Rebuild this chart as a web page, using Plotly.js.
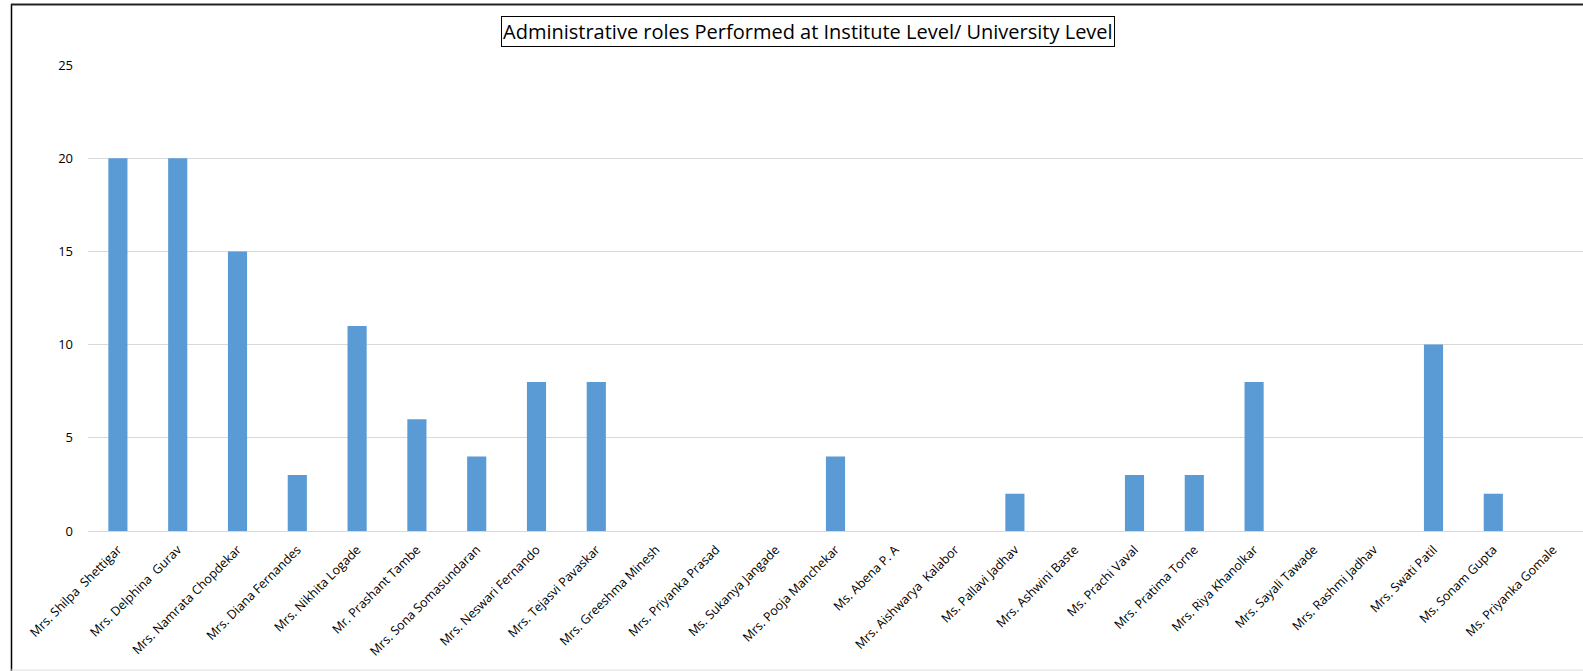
<!DOCTYPE html>
<html>
<head>
<meta charset="utf-8">
<script src="https://cdn.plot.ly/plotly-3.0.1.min.js"></script>
<style>
html,body{margin:0;padding:0;background:#fff;}
#chart{width:1583px;height:671px;}
</style>
</head>
<body>
<div id="chart"></div>
<script>
var names = [
  "Mrs. Shilpa  Shettigar",
  "Mrs. Delphina  Gurav",
  "Mrs. Namrata Chopdekar",
  "Mrs. Diana Fernandes",
  "Mrs. Nikhita Logade",
  "Mr. Prashant Tambe",
  "Mrs. Sona Somasundaran",
  "Mrs. Neswari Fernando",
  "Mrs. Tejasvi Pavaskar",
  "Mrs. Greeshma Minesh",
  "Mrs. Priyanka Prasad",
  "Ms. Sukanya Jangade",
  "Mrs. Pooja Manchekar",
  "Ms. Abena P. A",
  "Mrs. Aishwarya  Kalabor",
  "Ms. Pallavi Jadhav",
  "Mrs. Ashwini Baste",
  "Ms. Prachi Vaval",
  "Mrs. Pratima Torne",
  "Mrs. Riya Khanolkar",
  "Mrs. Sayali Tawade",
  "Mrs. Rashmi Jadhav",
  "Mrs. Swati Patil",
  "Ms. Sonam Gupta",
  "Ms. Priyanka Gomale"
];
var roles = [20, 20, 15, 3, 11, 6, 4, 8, 8, 0, 0, 0, 4, 0, 0, 2, 0, 3, 3, 8, 0, 0, 10, 2, 0];
var yTicks = [0, 5, 10, 15, 20, 25];
var chartTitle = "Administrative roles Performed at Institute Level/ University Level";

var W = 1583, H = 671;
var L = 88, R = 0, T = 65, B = 140;
var plotW = W - L - R, plotH = H - T - B;
function px2x(px){ return (px - L) / plotW; }
function py2y(py){ return (H - B - py) / plotH; }

var FONT = "Open Sans, Liberation Sans, sans-serif";

var trace = {
  type: "bar",
  x: names,
  y: roles,
  marker: {color: "#5B9BD5"},
  hoverinfo: "x+y"
};

var layout = {
  width: W, height: H,
  margin: {l: L, r: R, t: T, b: B, pad: 0},
  paper_bgcolor: "#ffffff",
  plot_bgcolor: "#ffffff",
  showlegend: false,
  bargap: 0.68,
  font: {family: FONT, size: 12, color: "#000000"},
  xaxis: {
    type: "category",
    tickangle: -45,
    tickfont: {family: FONT, size: 12.5, color: "#000000"},
    showgrid: false,
    showline: false,
    zeroline: false,
    ticks: "",
    ticklabelstandoff: 8,
    automargin: false
  },
  yaxis: {
    range: [0, 25],
    tickvals: yTicks,
    ticktext: yTicks.map(String),
    tickfont: {family: FONT, size: 13, color: "#000000"},
    showgrid: true,
    gridcolor: "#d9d9d9",
    gridwidth: 1,
    zeroline: true,
    zerolinecolor: "#d9d9d9",
    zerolinewidth: 1,
    showline: false,
    ticks: "",
    ticklabelstandoff: 14,
    automargin: false
  },
  annotations: [{
    text: chartTitle,
    xref: "paper", yref: "paper",
    x: px2x(808), y: py2y(31),
    xanchor: "center", yanchor: "middle",
    showarrow: false,
    font: {family: FONT, size: 20, color: "#000000"},
    bordercolor: "#000000",
    borderwidth: 1,
    borderpad: 1,
    bgcolor: "#ffffff"
  }],
  shapes: [
    {type: "line", xref: "paper", yref: "paper",
     x0: px2x(11.5), x1: px2x(11.5), y0: py2y(4), y1: py2y(671),
     line: {color: "#000000", width: 1.5}},
    {type: "line", xref: "paper", yref: "paper",
     x0: px2x(11), x1: px2x(1583), y0: py2y(4.5), y1: py2y(4.5),
     line: {color: "#222222", width: 2}},
    {type: "line", xref: "paper", yref: "paper",
     x0: px2x(11), x1: px2x(1583), y0: py2y(670), y1: py2y(670),
     line: {color: "#e0e0e0", width: 1}}
  ]
};

Plotly.newPlot("chart", [trace], layout, {displayModeBar: false, staticPlot: true});
</script>
</body>
</html>
